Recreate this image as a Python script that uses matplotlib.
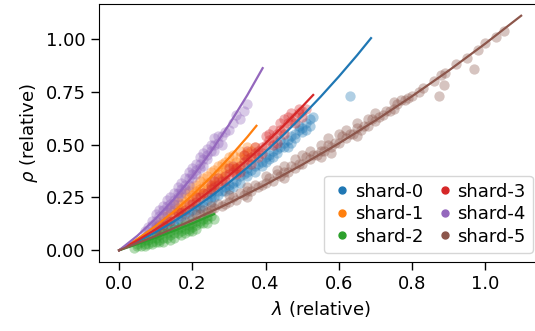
import matplotlib
matplotlib.use("Agg")
import matplotlib.pyplot as plt
from matplotlib.lines import Line2D

names = ["shard-0", "shard-1", "shard-2", "shard-3", "shard-4", "shard-5"]
colors = ["tab:blue", "tab:orange", "tab:green", "tab:red", "tab:purple", "tab:brown"]

# measured points (lambda, rho), relative units
pts_0 = [(0.08, 0.07), (0.10, 0.08), (0.11, 0.10), (0.12, 0.10), (0.14, 0.12), (0.15, 0.14),
         (0.16, 0.15), (0.17, 0.14), (0.18, 0.17), (0.19, 0.18), (0.20, 0.19), (0.21, 0.21),
         (0.22, 0.20), (0.23, 0.23), (0.24, 0.24), (0.25, 0.25), (0.26, 0.25), (0.27, 0.28),
         (0.28, 0.28), (0.29, 0.30), (0.30, 0.31), (0.31, 0.32), (0.32, 0.33), (0.33, 0.35),
         (0.34, 0.36), (0.35, 0.37), (0.36, 0.38), (0.37, 0.40), (0.38, 0.41), (0.39, 0.42),
         (0.40, 0.44), (0.41, 0.45), (0.42, 0.47), (0.43, 0.48), (0.44, 0.49), (0.45, 0.51),
         (0.46, 0.52), (0.47, 0.54), (0.48, 0.55), (0.49, 0.57), (0.50, 0.58), (0.51, 0.60),
         (0.52, 0.62), (0.30, 0.29), (0.35, 0.35), (0.40, 0.42), (0.45, 0.49), (0.25, 0.23),
         (0.42, 0.44), (0.47, 0.51), (0.50, 0.56), (0.63, 0.73),
         (0.13, 0.11), (0.15, 0.12), (0.17, 0.16), (0.19, 0.16), (0.21, 0.19), (0.23, 0.21),
         (0.25, 0.27), (0.27, 0.26), (0.29, 0.28), (0.31, 0.30), (0.33, 0.32), (0.35, 0.39),
         (0.37, 0.37), (0.39, 0.40), (0.41, 0.43), (0.43, 0.46), (0.44, 0.52), (0.46, 0.49),
         (0.48, 0.53), (0.49, 0.59), (0.51, 0.57), (0.52, 0.59), (0.53, 0.63), (0.10, 0.10),
         (0.12, 0.12)]
pts_1 = [(0.10, 0.11), (0.11, 0.13), (0.12, 0.14), (0.13, 0.16), (0.14, 0.17), (0.15, 0.19),
         (0.16, 0.20), (0.17, 0.22), (0.18, 0.23), (0.19, 0.25), (0.20, 0.26), (0.21, 0.28),
         (0.22, 0.29), (0.23, 0.30), (0.24, 0.32), (0.25, 0.33), (0.26, 0.34), (0.27, 0.36),
         (0.28, 0.37), (0.29, 0.39), (0.30, 0.40), (0.31, 0.41), (0.32, 0.42), (0.33, 0.44),
         (0.34, 0.45), (0.35, 0.46), (0.36, 0.47), (0.18, 0.27), (0.22, 0.33), (0.25, 0.37),
         (0.28, 0.41), (0.20, 0.23), (0.24, 0.29), (0.28, 0.34), (0.32, 0.39), (0.30, 0.44),
         (0.33, 0.40), (0.15, 0.22), (0.21, 0.31), (0.26, 0.38), (0.17, 0.19), (0.23, 0.27),
         (0.11, 0.11), (0.12, 0.16), (0.13, 0.14), (0.14, 0.19), (0.16, 0.18), (0.16, 0.23),
         (0.17, 0.25), (0.18, 0.21), (0.19, 0.28), (0.20, 0.30), (0.21, 0.25), (0.22, 0.26),
         (0.23, 0.34), (0.24, 0.35), (0.25, 0.30), (0.26, 0.31), (0.27, 0.40), (0.27, 0.33),
         (0.29, 0.36), (0.29, 0.42), (0.31, 0.38), (0.31, 0.45), (0.33, 0.47), (0.34, 0.43),
         (0.35, 0.49), (0.36, 0.44), (0.37, 0.49)]
pts_2 = [(0.04, 0.01), (0.05, 0.02), (0.06, 0.02), (0.07, 0.03), (0.08, 0.03), (0.09, 0.04),
         (0.10, 0.04), (0.10, 0.06), (0.11, 0.05), (0.12, 0.06), (0.13, 0.06), (0.13, 0.08),
         (0.14, 0.07), (0.15, 0.08), (0.16, 0.08), (0.16, 0.10), (0.17, 0.09), (0.18, 0.10),
         (0.19, 0.10), (0.19, 0.12), (0.20, 0.11), (0.21, 0.12), (0.22, 0.13), (0.22, 0.14),
         (0.23, 0.13), (0.24, 0.15), (0.25, 0.16), (0.06, 0.04), (0.08, 0.05), (0.12, 0.04),
         (0.15, 0.06), (0.18, 0.08), (0.20, 0.09),
         (0.05, 0.03), (0.07, 0.02), (0.07, 0.05), (0.09, 0.03), (0.09, 0.06), (0.11, 0.04),
         (0.11, 0.07), (0.12, 0.08), (0.14, 0.05), (0.14, 0.09), (0.15, 0.10), (0.17, 0.07),
         (0.17, 0.11), (0.18, 0.12), (0.19, 0.09), (0.20, 0.13), (0.21, 0.10), (0.21, 0.14),
         (0.23, 0.15), (0.24, 0.13), (0.24, 0.16), (0.26, 0.15)]
pts_3 = [(0.10, 0.10), (0.12, 0.12), (0.14, 0.14), (0.15, 0.16), (0.17, 0.18), (0.18, 0.19),
         (0.20, 0.22), (0.21, 0.23), (0.22, 0.25), (0.24, 0.27), (0.25, 0.29), (0.26, 0.30),
         (0.27, 0.31), (0.28, 0.33), (0.29, 0.35), (0.30, 0.36), (0.31, 0.37), (0.32, 0.39),
         (0.33, 0.40), (0.34, 0.42), (0.35, 0.43), (0.36, 0.44), (0.37, 0.46), (0.38, 0.47),
         (0.39, 0.49), (0.40, 0.50), (0.41, 0.52), (0.42, 0.53), (0.43, 0.55), (0.44, 0.57),
         (0.45, 0.58), (0.46, 0.60), (0.47, 0.61), (0.48, 0.63), (0.49, 0.65), (0.50, 0.66),
         (0.30, 0.39), (0.35, 0.47), (0.40, 0.54), (0.45, 0.62), (0.47, 0.65), (0.33, 0.37),
         (0.38, 0.44), (0.43, 0.51), (0.26, 0.33), (0.42, 0.57),
         (0.11, 0.12), (0.13, 0.14), (0.16, 0.18), (0.19, 0.22), (0.21, 0.25), (0.23, 0.27),
         (0.25, 0.31), (0.27, 0.34), (0.29, 0.33), (0.31, 0.40), (0.32, 0.36), (0.34, 0.45),
         (0.36, 0.41), (0.37, 0.49), (0.39, 0.46), (0.41, 0.55), (0.42, 0.50), (0.44, 0.60),
         (0.45, 0.55), (0.46, 0.63), (0.48, 0.60), (0.49, 0.67), (0.50, 0.63), (0.51, 0.67)]
pts_4 = [(0.07, 0.09), (0.08, 0.11), (0.09, 0.12), (0.10, 0.14), (0.10, 0.17), (0.11, 0.16),
         (0.12, 0.19), (0.12, 0.16), (0.13, 0.21), (0.14, 0.22), (0.14, 0.25), (0.15, 0.24),
         (0.16, 0.27), (0.16, 0.30), (0.17, 0.29), (0.18, 0.31), (0.18, 0.34), (0.19, 0.34),
         (0.20, 0.36), (0.20, 0.39), (0.21, 0.38), (0.22, 0.41), (0.22, 0.44), (0.23, 0.43),
         (0.24, 0.45), (0.24, 0.48), (0.25, 0.47), (0.26, 0.50), (0.27, 0.51), (0.28, 0.54),
         (0.30, 0.57), (0.31, 0.60), (0.33, 0.62), (0.34, 0.66), (0.35, 0.69), (0.32, 0.64),
         (0.08, 0.09), (0.09, 0.14), (0.10, 0.12), (0.11, 0.19), (0.12, 0.21), (0.13, 0.18),
         (0.13, 0.24), (0.14, 0.20), (0.15, 0.27), (0.15, 0.22), (0.16, 0.25), (0.17, 0.32),
         (0.17, 0.27), (0.18, 0.29), (0.19, 0.37), (0.19, 0.31), (0.20, 0.34), (0.21, 0.41),
         (0.21, 0.36), (0.22, 0.39), (0.23, 0.46), (0.23, 0.40), (0.24, 0.43), (0.25, 0.50),
         (0.26, 0.47), (0.27, 0.54), (0.28, 0.50), (0.29, 0.56), (0.26, 0.53)]
pts_5 = [(0.18, 0.14), (0.20, 0.15), (0.22, 0.17), (0.24, 0.18), (0.26, 0.20), (0.28, 0.21),
         (0.30, 0.23), (0.32, 0.24), (0.34, 0.26), (0.36, 0.28), (0.38, 0.30), (0.40, 0.32),
         (0.42, 0.33), (0.44, 0.35), (0.46, 0.37), (0.48, 0.39), (0.50, 0.41), (0.52, 0.43),
         (0.54, 0.45), (0.56, 0.47), (0.58, 0.49), (0.60, 0.51), (0.62, 0.53), (0.64, 0.55),
         (0.66, 0.57), (0.68, 0.59), (0.70, 0.61), (0.72, 0.64), (0.74, 0.66), (0.76, 0.69),
         (0.78, 0.71), (0.80, 0.73), (0.25, 0.21), (0.30, 0.26), (0.35, 0.30), (0.40, 0.35),
         (0.45, 0.40), (0.50, 0.45), (0.55, 0.50), (0.60, 0.55), (0.65, 0.60), (0.70, 0.65),
         (0.75, 0.70), (0.35, 0.25), (0.45, 0.34), (0.55, 0.44), (0.65, 0.54), (0.83, 0.77),
         (0.86, 0.80), (0.89, 0.84), (0.92, 0.88), (0.95, 0.91), (0.98, 0.95), (1.00, 0.98),
         (1.03, 1.01), (1.05, 1.04), (0.875, 0.73), (0.886, 0.78), (0.968, 0.86), (0.82, 0.75),
         (0.88, 0.83),
         (0.21, 0.17), (0.23, 0.19), (0.25, 0.19), (0.27, 0.22), (0.29, 0.22), (0.31, 0.25),
         (0.33, 0.27), (0.35, 0.28), (0.37, 0.31), (0.39, 0.31), (0.41, 0.34), (0.43, 0.36),
         (0.45, 0.37), (0.47, 0.40), (0.49, 0.41), (0.51, 0.44), (0.53, 0.45), (0.55, 0.47),
         (0.57, 0.50), (0.59, 0.51), (0.61, 0.54), (0.63, 0.55), (0.65, 0.58), (0.67, 0.59),
         (0.69, 0.62), (0.71, 0.63), (0.73, 0.66), (0.75, 0.67), (0.77, 0.71), (0.79, 0.72),
         (0.52, 0.47), (0.57, 0.53), (0.62, 0.57), (0.48, 0.43), (0.43, 0.38), (0.58, 0.46),
         (0.68, 0.62)]

# fitted curves
fit_0 = [(0, 0), (0.05, 0.041), (0.1, 0.086), (0.15, 0.137), (0.2, 0.193), (0.25, 0.254),
         (0.3, 0.320), (0.35, 0.391), (0.4, 0.467), (0.45, 0.548), (0.5, 0.635), (0.55, 0.726),
         (0.6, 0.822), (0.65, 0.923), (0.688, 1.004)]
fit_1 = [(0, 0), (0.05, 0.054), (0.1, 0.115), (0.15, 0.184), (0.2, 0.261), (0.25, 0.345),
         (0.3, 0.437), (0.35, 0.536), (0.375, 0.589)]
fit_2 = [(0, 0), (0.05, 0.029), (0.1, 0.059), (0.15, 0.092), (0.2, 0.127), (0.259, 0.171)]
fit_3 = [(0, 0), (0.05, 0.047), (0.1, 0.099), (0.15, 0.156), (0.2, 0.217), (0.25, 0.283),
         (0.3, 0.353), (0.35, 0.428), (0.4, 0.507), (0.45, 0.591), (0.5, 0.680), (0.53, 0.735)]
fit_4 = [(0, 0), (0.05, 0.069), (0.1, 0.150), (0.15, 0.243), (0.2, 0.348), (0.25, 0.465),
         (0.3, 0.594), (0.35, 0.734), (0.392, 0.862)]
fit_5 = [(0, 0), (0.1, 0.068), (0.2, 0.142), (0.3, 0.223), (0.4, 0.311), (0.5, 0.405),
         (0.6, 0.506), (0.7, 0.614), (0.8, 0.729), (0.9, 0.850), (1.0, 0.978), (1.098, 1.110)]

points = [pts_0, pts_1, pts_2, pts_3, pts_4, pts_5]
fits = [fit_0, fit_1, fit_2, fit_3, fit_4, fit_5]

plt.rcParams["font.size"] = 13
fig = plt.figure(figsize=(5.35, 3.31), dpi=100)
ax = fig.add_axes([99 / 535, 69 / 331, 443 / 535, 258 / 331])

for i in range(6):
    xs = [p[0] for p in points[i]]
    ys = [p[1] for p in points[i]]
    ax.scatter(xs, ys, s=55, color=colors[i], alpha=0.35, linewidths=0)
    ax.plot([p[0] for p in fits[i]], [p[1] for p in fits[i]], color=colors[i], lw=1.6)

ax.set_xlim(-0.055, 1.155)
ax.set_ylim(-0.0555, 1.1655)
ax.set_xticks([0.0, 0.2, 0.4, 0.6, 0.8, 1.0])
ax.set_yticks([0.0, 0.25, 0.5, 0.75, 1.0])
ax.set_xlabel(r"$\lambda$ (relative)")
ax.set_ylabel(r"$\rho$ (relative)")
ax.tick_params(length=6, width=1)

handles = [Line2D([], [], ls="", marker="o", ms=5, color=c) for c in colors]
ax.legend(handles, names, ncol=2, loc="lower right", handletextpad=0.1,
          columnspacing=0.6, labelspacing=0.25, borderpad=0.4, handlelength=1.2)

fig.savefig("out.png", dpi=100)
